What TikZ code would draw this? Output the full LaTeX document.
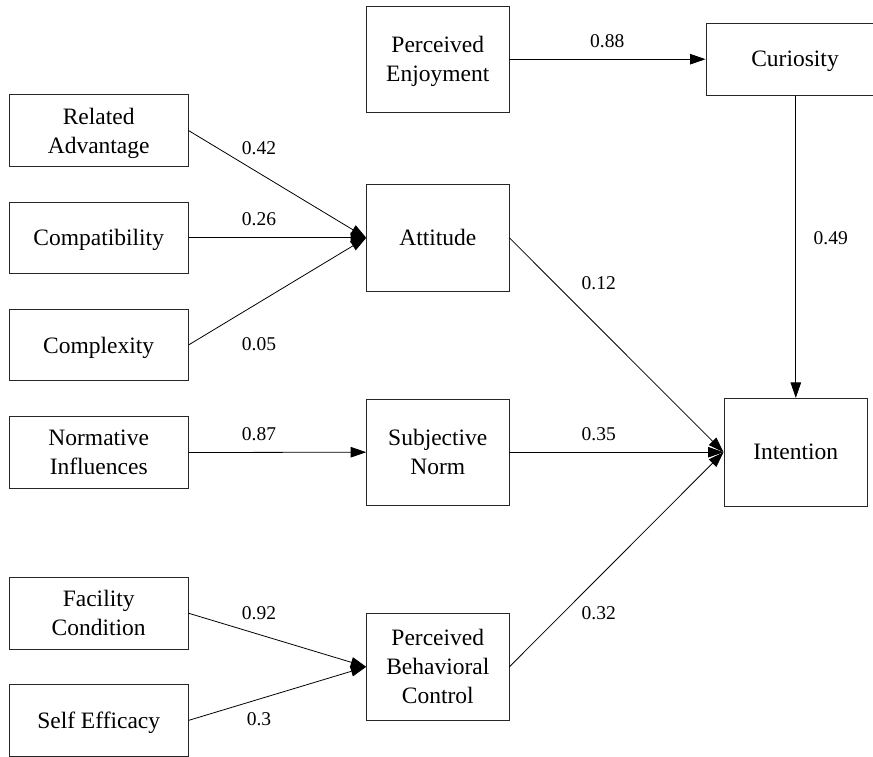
\documentclass[tikz,border=0pt]{standalone}
\usepackage{fontspec}
\setmainfont{Liberation Serif}
\usetikzlibrary{arrows.meta}
\begin{document}
\begin{tikzpicture}[x=1pt,y=-1pt,
  box/.style={draw=black!85, line width=0.9pt, align=center, inner sep=0pt,
    text depth=0pt, font=\fontsize{23.5}{29}\selectfont},
  lbox/.style={box, minimum width=178.7pt, minimum height=71.6pt},
  mbox/.style={box, minimum width=142.3pt, minimum height=106.5pt},
  lab/.style={inner sep=0pt, font=\fontsize{19.5}{23}\selectfont},
  conn/.style={line width=0.8pt, -{Triangle[length=15.5pt,width=10.5pt]}}]
\clip (0,0) rectangle (873,756);
\fill[white] (0,0) rectangle (873,756);
% left column
\node[lbox] (ra) at (98.7,130.5) {Related\\Advantage};
\node[lbox] (cp) at (98.7,237.8) {Compatibility};
\node[lbox] (cx) at (98.7,345) {Complexity};
\node[lbox] (ni) at (98.7,452.5) {Normative\\Influences};
\node[lbox] (fc) at (98.7,613.2) {Facility\\Condition};
\node[lbox] (se) at (98.7,720.4) {Self Efficacy};
% middle column
\node[mbox] (pe) at (437.8,59.2) {Perceived\\Enjoyment};
\node[mbox] (at) at (437.8,237.8) {Attitude};
\node[mbox] (sn) at (437.8,452.2) {Subjective\\Norm};
\node[mbox] (pbc) at (437.8,666.8) {Perceived\\Behavioral\\Control};
% right column
\node[box, minimum width=178pt, minimum height=71.7pt] (cu) at (795,59.2) {Curiosity};
\node[box, minimum width=143.7pt, minimum height=107.7pt] (in) at (795.8,452.2) {Intention};
% connectors
\draw[conn] (pe.east) -- (cu.west);
\draw[conn] (cu.south -| in.north) -- (in.north);
\draw[conn] (ra.east) -- (at.west);
\draw[conn] (cp.east) -- (at.west);
\draw[conn] (cx.east) -- (at.west);
\draw[conn] (ni.east) -- (sn.west);
\draw[conn] (fc.east) -- (pbc.west);
\draw[conn] (se.east) -- (pbc.west);
\draw[conn] (at.east) -- (in.west);
\draw[conn] (sn.east) -- (in.west);
\draw[conn] (pbc.east) -- (in.west);
% labels
\node[lab] (l1) at (259,148.5) {0.42};
\node[lab] (l2) at (259,219.3) {0.26};
\node[lab] (l3) at (259,344.3) {0.05};
\node[lab] (l4) at (259,434.3) {0.87};
\node[lab] (l5) at (259,613.3) {0.92};
\node[lab] (l6) at (259,719.3) {0.3};
\node[lab] (l7) at (607.3,40.7) {0.88};
\node[lab] (l8) at (830.7,238) {0.49};
\node[lab] (l9) at (598.7,283) {0.12};
\node[lab] (l10) at (598.7,434) {0.35};
\node[lab] (l11) at (598.7,612.7) {0.32};
\end{tikzpicture}
\end{document}
